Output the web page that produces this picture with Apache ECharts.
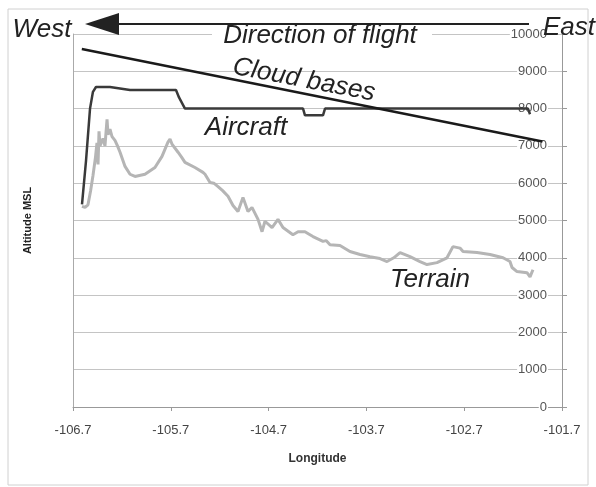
<!DOCTYPE html>
<html>
<head>
<meta charset="utf-8">
<script src="https://cdn.jsdelivr.net/npm/echarts@6/dist/echarts.min.js"></script>
<style>
    html, body { margin: 0; padding: 0; background: #fff; }
    #chart { width: 596px; height: 487px; }
</style>
</head>
<body>
<div id="chart"></div>
<script>
    // longitude / altitude
    const terrainLon = [-106.608, -106.577, -106.547, -106.520, -106.496, -106.470, -106.455, -106.444, -106.434, -106.424,
        -106.393, -106.373, -106.352, -106.342, -106.322, -106.301, -106.285, -106.271, -106.245, -106.219,
        -106.168, -106.117, -106.066, -105.964, -105.862, -105.790, -105.729, -105.708, -105.688, -105.626,
        -105.590, -105.555, -105.453, -105.371, -105.350, -105.299, -105.260, -105.217, -105.170, -105.115,
        -105.064, -105.013, -104.962, -104.911, -104.870, -104.808, -104.767, -104.737, -104.665, -104.604,
        -104.553, -104.451, -104.399, -104.328, -104.290, -104.246, -104.144, -104.110, -104.072, -103.970,
        -103.868, -103.765, -103.663, -103.561, -103.489, -103.420, -103.356, -103.254, -103.152, -103.080,
        -102.978, -102.876, -102.815, -102.743, -102.712, -102.569, -102.436, -102.303, -102.232, -102.211,
        -102.160, -102.058, -102.027, -101.997];
    const terrainAlt = [5380, 5350, 5420, 5800, 6200, 6700, 7080, 6500, 7390, 7000,
        7200, 7000, 7710, 7300, 7450, 7250, 7300, 7150, 7000, 6830,
        6450, 6240, 6180, 6240, 6420, 6720, 7100, 7180, 7050, 6830,
        6700, 6560, 6420, 6290, 6240, 6020, 6000, 5910, 5800, 5650,
        5400, 5240, 5620, 5240, 5350, 5030, 4700, 4980, 4810, 5030,
        4810, 4620, 4700, 4700, 4640, 4570, 4440, 4460, 4350, 4330,
        4170, 4090, 4030, 3980, 3900, 4000, 4140, 4030, 3900, 3820,
        3870, 4000, 4300, 4260, 4170, 4140, 4090, 4000, 3900, 3740,
        3630, 3600, 3490, 3680];

    const aircraftLon = [-106.608, -106.567, -106.526, -106.496, -106.465, -106.322, -106.117, -105.647, -105.616, -105.555,
        -104.348, -104.328, -104.144, -104.123, -102.048, -102.027];
    const aircraftAlt = [5430, 6600, 8000, 8450, 8580, 8580, 8500, 8500, 8300, 8000,
        8000, 7820, 7820, 8000, 8000, 7850];

    const cloudLon = [-106.61, -101.9];
    const cloudAlt = [9600, 7120];

    const FONT = 'Liberation Sans, Arial, sans-serif';

    function zip(a, b) {
        return a.map((v, i) => [v, b[i]]);
    }

    let myChart = echarts.init(document.getElementById('chart'));

    let option = {
        animation: false,
        backgroundColor: '#fff',
        grid: {left: 73, right: 34, top: 34, bottom: 80},
        xAxis: {
            type: 'value',
            min: -106.7,
            max: -101.7,
            interval: 1,
            name: 'Longitude',
            nameLocation: 'middle',
            nameGap: 46,
            nameTextStyle: {fontFamily: FONT, fontSize: 12, fontWeight: 'bold', color: '#333'},
            axisLine: {show: true, lineStyle: {color: '#999', width: 1}},
            axisTick: {show: true, length: 4, lineStyle: {color: '#999'}},
            axisLabel: {
                fontFamily: FONT, fontSize: 13, color: '#444', margin: 17,
                formatter: v => v.toFixed(1)
            },
            splitLine: {show: false}
        },
        yAxis: [
            {
                type: 'value',
                position: 'right',
                min: 0,
                max: 10000,
                interval: 1000,
                axisLine: {show: true, lineStyle: {color: '#999', width: 1}},
                axisTick: {show: true, length: 5, lineStyle: {color: '#999'}},
                axisLabel: {
                    inside: true, margin: 14,
                    fontFamily: FONT, fontSize: 13, color: '#555',
                    backgroundColor: '#fff', padding: [0, 1],
                    formatter: v => String(v)
                },
                splitLine: {show: true, lineStyle: {color: '#c4c4c4', width: 1}}
            },
            {
                type: 'value',
                position: 'left',
                min: 0,
                max: 10000,
                interval: 1000,
                name: 'Altitude MSL',
                nameLocation: 'middle',
                nameGap: 40,
                nameTextStyle: {fontFamily: FONT, fontSize: 11, fontWeight: 'bold', color: '#222'},
                axisLine: {show: true, lineStyle: {color: '#aaa', width: 1}},
                axisTick: {show: false},
                axisLabel: {show: false},
                splitLine: {show: false}
            }
        ],
        series: [
            {
                name: 'Terrain',
                type: 'line',
                symbol: 'none',
                data: zip(terrainLon, terrainAlt),
                lineStyle: {color: '#b5b5b5', width: 3},
                z: 2
            },
            {
                name: 'Aircraft',
                type: 'line',
                symbol: 'none',
                data: zip(aircraftLon, aircraftAlt),
                lineStyle: {color: '#3a3a3a', width: 2.5},
                z: 3
            },
            {
                name: 'Cloud bases',
                type: 'line',
                symbol: 'none',
                data: zip(cloudLon, cloudAlt),
                lineStyle: {color: '#1a1a1a', width: 2.5},
                z: 4
            }
        ],
        graphic: [
            // outer frame
            {type: 'rect', shape: {x: 8, y: 9, width: 580, height: 476}, style: {fill: 'none', stroke: '#d0d0d0', lineWidth: 1}, z: 0},
            // direction arrow
            {type: 'line', shape: {x1: 116, y1: 24, x2: 529, y2: 24}, style: {stroke: '#222', lineWidth: 2}, z: 10},
            {type: 'polygon', shape: {points: [[85, 24], [119, 13], [119, 35]]}, style: {fill: '#222'}, z: 10},
            {type: 'rect', shape: {x: 212, y: 27, width: 220, height: 18}, style: {fill: '#fff'}, z: 9},
            {type: 'text', x: 320, y: 36, z: 11,
                style: {text: 'Direction of flight', font: 'italic 26px ' + FONT, fill: '#222', align: 'center', verticalAlign: 'middle'}},
            {type: 'text', x: 42, y: 30, z: 11,
                style: {text: 'West', font: 'italic 26px ' + FONT, fill: '#222', align: 'center', verticalAlign: 'middle'}},
            {type: 'text', x: 569, y: 28, z: 11,
                style: {text: 'East', font: 'italic 26px ' + FONT, fill: '#222', align: 'center', verticalAlign: 'middle'}},
            {type: 'text', x: 304, y: 80, rotation: -0.19, z: 11,
                style: {text: 'Cloud bases', font: 'italic 26px ' + FONT, fill: '#222', align: 'center', verticalAlign: 'middle'}},
            {type: 'text', x: 246, y: 128, z: 11,
                style: {text: 'Aircraft', font: 'italic 26px ' + FONT, fill: '#222', align: 'center', verticalAlign: 'middle'}},
            {type: 'text', x: 430, y: 280, z: 11,
                style: {text: 'Terrain', font: 'italic 26px ' + FONT, fill: '#222', align: 'center', verticalAlign: 'middle'}}
        ]
    };

    myChart.setOption(option);
</script>
</body>
</html>
